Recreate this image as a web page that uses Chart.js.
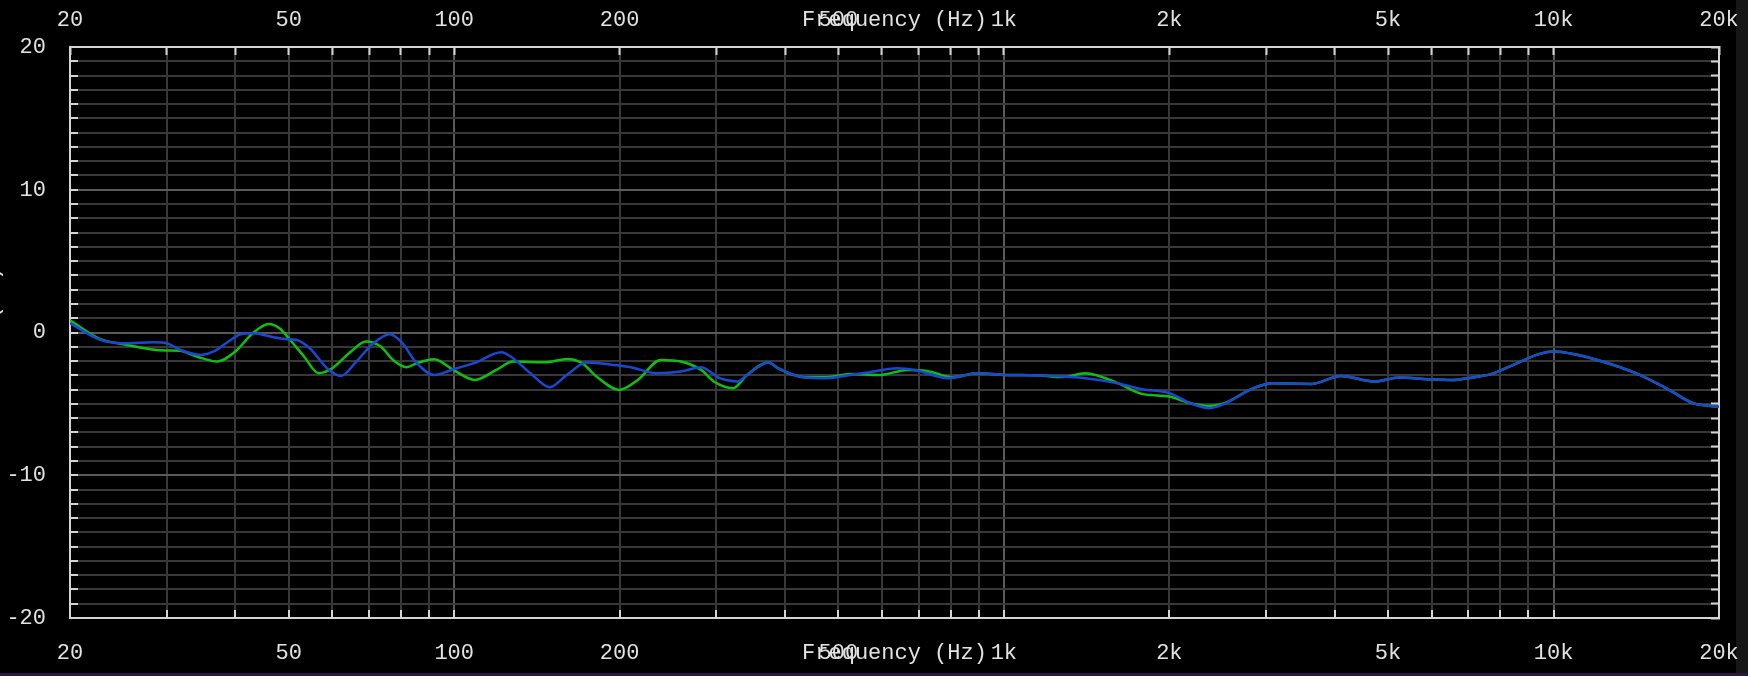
<!DOCTYPE html>
<html>
<head>
<meta charset="utf-8">
<script src="https://cdn.jsdelivr.net/npm/chart.js@4/dist/chart.umd.min.js"></script>
<style>
  html, body { margin: 0; padding: 0; background: #000; overflow: hidden; }
  #wrap { position: relative; width: 1748px; height: 676px; }
  #edge { position: absolute; left: 1736px; top: 0; width: 12px; height: 676px; background: #161616; }
  #foot { position: absolute; left: 0; top: 673px; width: 1748px; height: 3px; background: #2c1644; }
  canvas { position: absolute; left: 0; top: 0; }
</style>
</head>
<body>
<div id="wrap">
  <div id="edge"></div>
  <div id="foot"></div>
  <canvas id="chart" width="1748" height="676"></canvas>
</div>
<script>
// frequency grid and labels
const xGrid = [20, 30, 40, 50, 60, 70, 80, 90, 100, 200, 300, 400, 500, 600, 700, 800, 900,
  1000, 2000, 3000, 4000, 5000, 6000, 7000, 8000, 9000, 10000, 20000];
const xLabelValues = [20, 50, 100, 200, 500, 1000, 2000, 5000, 10000, 20000];
const xLabelText = ['20', '50', '100', '200', '500', '1k', '2k', '5k', '10k', '20k'];
const yLabelValues = [-20, -10, 0, 10, 20];

// green trace
const greenFreq = [20, 22.7, 25, 28, 30, 31.7, 34, 37.1, 40, 43, 46, 48.1, 50, 53.3, 56.7, 60, 64.9, 69.1,
  73.5, 77.4, 81.9, 85.5, 91.9, 99.6, 109, 119.6, 127.9, 141, 147.2, 160.3, 170.9, 181.5, 199.8, 215.9,
  237.5, 258.5, 281.4, 296.8, 321.7, 341.1, 373.3, 388, 434.2, 475.6, 525.6, 596.8, 666.4, 724, 807.6,
  893, 1000, 1150, 1280, 1408, 1611, 1782, 2000, 2184, 2371, 2519, 2844, 3085, 3631, 4101, 4729, 5240,
  5930, 6561, 6969, 7716, 8530, 9434, 10018, 10850, 12270, 14110, 16230, 17940, 20000];
const greenLevel = [0.85, -0.47, -0.82, -1.17, -1.26, -1.28, -1.68, -2.03, -1.33, -0.05, 0.6, 0.3, -0.4,
  -1.68, -2.85, -2.5, -1.33, -0.63, -0.98, -1.92, -2.43, -2.15, -1.87, -2.62, -3.32, -2.6, -2.03, -2.08,
  -2.08, -1.85, -2.15, -3.08, -4.02, -3.32, -1.92, -2.03, -2.62, -3.43, -3.9, -2.97, -2.1, -2.5, -3.13,
  -3.13, -2.9, -2.97, -2.62, -2.69, -3.13, -2.85, -2.97, -3.0, -3.12, -2.85, -3.55, -4.3, -4.49, -4.95,
  -5.15, -4.95, -3.9, -3.55, -3.6, -3.04, -3.43, -3.15, -3.27, -3.32, -3.2, -2.9, -2.2, -1.5, -1.33,
  -1.5, -2.03, -2.85, -4.02, -4.95, -5.2];

// blue trace
const blueFreq = [20, 22.7, 25, 28.4, 30, 31.7, 34.6, 36.5, 38.6, 40.9, 43, 46.9, 49.5, 51.5, 54.6, 58.7,
  62.2, 66.4, 71.3, 76.4, 80, 85.5, 91.9, 99.6, 108.7, 121.9, 127.9, 137.6, 149.2, 160.3, 174.2, 195.3,
  209.5, 233.2, 258.5, 281.4, 304.2, 327.9, 341.1, 373.3, 388, 434.2, 475.6, 525.6, 565.9, 638.6, 689.6,
  790.6, 893, 1000, 1234, 1408, 1611, 1782, 2000, 2184, 2371, 2519, 2844, 3085, 3631, 4101, 4729, 5240,
  5930, 6561, 6969, 7716, 8530, 9434, 10018, 10850, 12270, 14110, 16230, 17940, 20000];
const blueLevel = [0.65, -0.51, -0.75, -0.68, -0.75, -1.21, -1.57, -1.33, -0.7, -0.12, -0.05, -0.33, -0.47,
  -0.51, -1.1, -2.5, -3.04, -2.03, -0.75, -0.12, -0.63, -2.15, -2.97, -2.57, -2.15, -1.38, -1.8, -2.85,
  -3.83, -2.97, -2.1, -2.27, -2.43, -2.85, -2.73, -2.43, -3.2, -3.43, -2.97, -2.1, -2.5, -3.15, -3.2,
  -2.97, -2.8, -2.5, -2.62, -3.2, -2.85, -2.97, -3.04, -3.2, -3.55, -3.97, -4.25, -4.95, -5.3, -5.0,
  -3.9, -3.55, -3.6, -3.04, -3.43, -3.15, -3.27, -3.32, -3.2, -2.9, -2.2, -1.5, -1.33, -1.5, -2.03,
  -2.85, -4.02, -4.95, -5.2];

const toPoints = (fs, ls) => fs.map((f, i) => ({ x: f, y: ls[i] }));

const textColor = '#e2e2e2';
const tickColor = '#d4d4d4';
const minorGrid = '#383838';
const majorGrid = '#5a5a5a';

Chart.defaults.font.family = '"Liberation Mono", "DejaVu Sans Mono", monospace';
Chart.defaults.font.size = 22;
Chart.defaults.color = textColor;

const xMajor = [100, 1000, 10000];
const xTickLabel = (v) => {
  const i = xLabelValues.indexOf(v);
  return i >= 0 ? xLabelText[i] : '';
};
const setXTicks = (scale) => { scale.ticks = xGrid.map(v => ({ value: v })); };
// fixed axis sizes so the plot box lands where the reference has it
const fixSize = (size) => (scale) => {
  if (scale.isHorizontal()) scale.height = size; else scale.width = size;
  scale.paddingLeft = 0;
  scale.paddingRight = 0;
  scale.paddingTop = 0;
  scale.paddingBottom = 0;
};

const border = { display: true, color: tickColor, width: 2 };

new Chart(document.getElementById('chart'), {
  type: 'line',
  data: {
    datasets: [
      {
        label: 'blue',
        data: toPoints(blueFreq, blueLevel),
        borderColor: '#1848d4',
        borderWidth: 2.5,
        pointRadius: 0,
        cubicInterpolationMode: 'monotone',
        fill: false,
      },
      {
        label: 'green',
        data: toPoints(greenFreq, greenLevel),
        borderColor: '#10c010',
        borderWidth: 2.5,
        pointRadius: 0,
        cubicInterpolationMode: 'monotone',
        fill: false,
      },
    ],
  },
  options: {
    responsive: false,
    animation: false,
    devicePixelRatio: 1,
    layout: { padding: 0 },
    plugins: { legend: { display: false }, tooltip: { enabled: false } },
    scales: {
      x: {
        type: 'logarithmic',
        position: 'bottom',
        min: 20,
        max: 20000,
        afterBuildTicks: setXTicks,
        afterFit: fixSize(58),
        border: border,
        grid: {
          color: (c) => xMajor.includes(c.tick && c.tick.value) ? majorGrid : minorGrid,
          lineWidth: 2,
          tickColor: tickColor,
          tickLength: -8,
          tickWidth: 2,
        },
        ticks: { autoSkip: false, maxRotation: 0, padding: 30, callback: xTickLabel },
        title: { display: true, text: 'Frequency (Hz)', padding: { bottom: 10, top: 0 } },
      },
      xTop: {
        type: 'logarithmic',
        position: 'top',
        min: 20,
        max: 20000,
        afterBuildTicks: setXTicks,
        afterFit: fixSize(47),
        border: border,
        grid: { drawOnChartArea: false, tickColor: tickColor, tickLength: -8, tickWidth: 2 },
        ticks: { autoSkip: false, maxRotation: 0, padding: 22, callback: xTickLabel },
        title: { display: true, text: 'Frequency (Hz)', padding: { top: 7, bottom: 0 } },
      },
      y: {
        position: 'left',
        min: -20,
        max: 20,
        afterFit: fixSize(70),
        border: border,
        grid: {
          color: (c) => (c.tick && c.tick.value % 10 === 0) ? majorGrid : minorGrid,
          lineWidth: 2,
          tickColor: tickColor,
          tickLength: -8,
          tickWidth: 2,
        },
        ticks: {
          stepSize: 1,
          autoSkip: false,
          padding: 32,
          callback: (v) => yLabelValues.includes(v) ? String(v) : '',
        },
        title: { display: true, text: 'Level (dB)', padding: { top: -21, bottom: 0 } },
      },
      yRight: {
        position: 'right',
        min: -20,
        max: 20,
        afterFit: fixSize(29),
        border: border,
        grid: { drawOnChartArea: false, tickColor: tickColor, tickLength: -8, tickWidth: 2 },
        ticks: { stepSize: 1, autoSkip: false, display: false },
      },
    },
  },
});
</script>
</body>
</html>
